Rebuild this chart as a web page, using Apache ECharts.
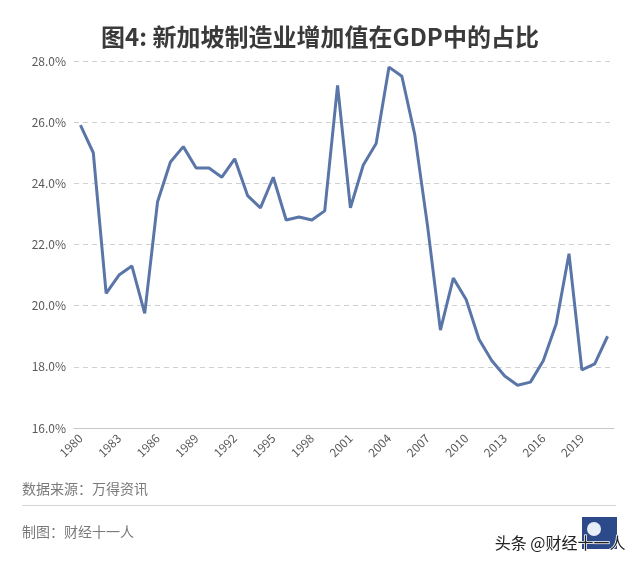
<!DOCTYPE html>
<html><head><meta charset="utf-8">
<script src="https://cdn.jsdelivr.net/npm/echarts@6/dist/echarts.min.js"></script>
<style>html,body{margin:0;padding:0;background:#fff}#c{width:640px;height:565px}</style>
</head><body><div id="c"></div>
<script>
const years = [];
for (let y = 1980; y <= 2021; y++) years.push(String(y));
const shares = [25.9,25.0,20.4,21.0,21.3,19.75,23.4,24.7,25.2,24.5,
  24.5,24.2,24.8,23.6,23.2,24.2,22.8,22.9,22.8,23.1,
  27.2,23.2,24.6,25.3,27.8,27.5,25.6,22.6,19.2,20.9,
  20.2,18.9,18.2,17.7,17.4,17.5,18.2,19.4,21.7,17.9,
  18.1,19.0];
const titleText = '图4: 新加坡制造业增加值在GDP中的占比';
const sourceText = '数据来源：万得资讯';
const makerText = '制图：财经十一人';
const watermarkText = '头条 @财经十一人';
const font = '"Noto Sans CJK SC","Noto Sans",sans-serif';

const chart = echarts.init(document.getElementById('c'));
chart.setOption({
  animation: false,
  title: {text: titleText, left: 'center', top: 20,
    textStyle: {fontFamily: font, fontSize: 24, fontWeight: 'bold', color: '#3a3a3a'}},
  grid: {left: 74, right: 26, top: 61, bottom: 137},
  xAxis: {type: 'category', data: years, boundaryGap: true,
    axisLine: {lineStyle: {color: '#c8c8c8'}},
    axisTick: {alignWithLabel: true, interval: 2, lineStyle: {color: '#c8c8c8'}},
    axisLabel: {interval: 2, rotate: 45, color: '#595959', fontSize: 12, fontFamily: font, margin: 8}},
  yAxis: {type: 'value', min: 16, max: 28, interval: 2,
    axisLine: {show: false}, axisTick: {show: false},
    axisLabel: {formatter: v => v.toFixed(1) + '%', color: '#595959', fontSize: 12, fontFamily: font, margin: 8}},
  series: [{type: 'line', data: shares, symbol: 'none',
    lineStyle: {color: '#5a76a8', width: 3}}],
  graphic: [
    {type: 'text', left: 22, top: 482, style: {text: sourceText, fill: '#7a7a7a', font: '14px ' + font}},
    {type: 'rect', shape: {x: 22, y: 505, width: 594, height: 1}, style: {fill: '#d6d6d6'}},
    {type: 'text', left: 22, top: 525, style: {text: makerText, fill: '#7a7a7a', font: '14px ' + font}},
    {type: 'rect', shape: {x: 582, y: 517, width: 35, height: 32}, style: {fill: '#2c4a8a'}},
    {type: 'circle', shape: {cx: 594, cy: 529, r: 7}, style: {fill: '#e8eef8'}},
    {type: 'text', left: 494, top: 534, style: {text: watermarkText, fill: '#222', font: '16px ' + font,
      stroke: '#fff', lineWidth: 1.5}}
  ]
});
chart.setOption({yAxis: {splitLine: {lineStyle: {color: '#d0d0d0', type: [5, 4]}}}});
</script></body></html>
